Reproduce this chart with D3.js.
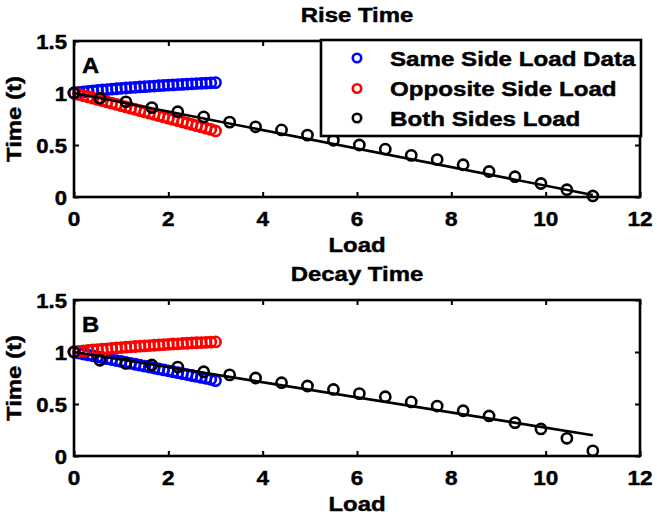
<!DOCTYPE html>
<html>
<head>
<meta charset="utf-8">
<script src="https://cdn.jsdelivr.net/npm/d3@7"></script>
<style>
  html, body { margin: 0; padding: 0; background: #fff; }
  svg { display: block; }
  text { font-family: "Liberation Sans", Arial, Helvetica, sans-serif; font-weight: bold; fill: #000; stroke: #000; stroke-width: 0.45px; }
</style>
</head>
<body>
<svg id="chart" width="657" height="517"></svg>
<script>
// ---------------- data ----------------
const xTickValues = [0, 2, 4, 6, 8, 10, 12];
const xTickLabels = ["0", "2", "4", "6", "8", "10", "12"];
const yTickValues = [0, 0.5, 1, 1.5];
const yTickLabels = ["0", "0.5", "1", "1.5"];

const loadSingle = [0, 0.1, 0.2, 0.3, 0.4, 0.5, 0.6, 0.7, 0.8, 0.9, 1.0,
                    1.1, 1.2, 1.3, 1.4, 1.5, 1.6, 1.7, 1.8, 1.9, 2.0,
                    2.1, 2.2, 2.3, 2.4, 2.5, 2.6, 2.7, 2.8, 2.9, 3.0];
const loadBoth = [0, 0.55, 1.1, 1.65, 2.2, 2.75, 3.3, 3.85, 4.4, 4.95, 5.5,
                  6.05, 6.6, 7.15, 7.7, 8.25, 8.8, 9.35, 9.9, 10.45, 11.0];

// Rise Time
const riseSame = [1.000, 1.006, 1.011, 1.016, 1.021, 1.025, 1.029, 1.033, 1.037, 1.041, 1.045,
                  1.048, 1.052, 1.055, 1.058, 1.061, 1.064, 1.067, 1.070, 1.073, 1.076,
                  1.078, 1.081, 1.083, 1.086, 1.088, 1.091, 1.093, 1.095, 1.098, 1.100];
const riseOpposite = [1.000, 0.987, 0.975, 0.962, 0.950, 0.938, 0.926, 0.914, 0.902, 0.890, 0.878,
                      0.866, 0.854, 0.842, 0.830, 0.818, 0.806, 0.794, 0.782, 0.770, 0.758,
                      0.746, 0.734, 0.722, 0.710, 0.698, 0.686, 0.674, 0.662, 0.650, 0.635];
const riseBoth = [1.00, 0.95, 0.915, 0.86, 0.82, 0.77, 0.72, 0.675, 0.645, 0.595, 0.545,
                  0.50, 0.46, 0.40, 0.36, 0.31, 0.245, 0.195, 0.13, 0.07, 0.01];
const riseFitX = [0, 11];
const riseFitY = [1.0, 0.02];

// Decay Time
const decaySame = [1.000, 0.990, 0.981, 0.972, 0.963, 0.954, 0.945, 0.936, 0.927, 0.918, 0.909,
                   0.900, 0.891, 0.882, 0.873, 0.864, 0.855, 0.846, 0.837, 0.828, 0.819,
                   0.810, 0.801, 0.792, 0.783, 0.774, 0.765, 0.756, 0.747, 0.738, 0.725];
const decayOpposite = [1.000, 1.005, 1.010, 1.015, 1.019, 1.023, 1.027, 1.031, 1.035, 1.039, 1.043,
                       1.046, 1.050, 1.053, 1.056, 1.059, 1.062, 1.065, 1.068, 1.071, 1.074,
                       1.077, 1.079, 1.082, 1.084, 1.087, 1.089, 1.091, 1.093, 1.095, 1.097];
const decayBoth = [1.00, 0.92, 0.89, 0.875, 0.855, 0.81, 0.78, 0.75, 0.705, 0.673, 0.64,
                   0.60, 0.57, 0.52, 0.48, 0.435, 0.385, 0.32, 0.26, 0.17, 0.05];
const decayFitX = [0, 11];
const decayFitY = [1.0, 0.2];

const legendLabels = ["Same Side Load Data", "Opposite Side Load", "Both Sides Load"];
const seriesColors = ["#0000ff", "#ff0000", "#000000"];

// ---------------- layout ----------------
const svg = d3.select("#chart");
const left = 74, right = 640;
const panels = [
  { top: 41, bottom: 197, title: "Rise Time", tag: "A",
    series: [
      { x: loadSingle, y: riseSame, color: seriesColors[0] },
      { x: loadSingle, y: riseOpposite, color: seriesColors[1] },
      { x: loadBoth, y: riseBoth, color: seriesColors[2] }
    ],
    fitX: riseFitX, fitY: riseFitY, legend: true },
  { top: 300, bottom: 456, title: "Decay Time", tag: "B",
    series: [
      { x: loadSingle, y: decaySame, color: seriesColors[0] },
      { x: loadSingle, y: decayOpposite, color: seriesColors[1] },
      { x: loadBoth, y: decayBoth, color: seriesColors[2] }
    ],
    fitX: decayFitX, fitY: decayFitY, legend: false }
];

function label(g, x, y, str, size, anchor, sx, rot) {
  return g.append("text")
    .attr("transform", `translate(${x},${y}) rotate(${rot || 0}) scale(${sx},1)`)
    .attr("text-anchor", anchor)
    .style("font-size", size + "px")
    .text(str);
}

panels.forEach(p => {
  const g = svg.append("g");
  const x = d3.scaleLinear().domain([0, 12]).range([left, right]);
  const y = d3.scaleLinear().domain([0, 1.5]).range([p.bottom, p.top]);

  // axes ticks (inward)
  const ax = [
    g.append("g").attr("transform", `translate(0,${p.bottom})`)
      .call(d3.axisBottom(x).tickValues(xTickValues).tickSizeInner(-5).tickSizeOuter(0).tickFormat("")),
    g.append("g").attr("transform", `translate(0,${p.top})`)
      .call(d3.axisTop(x).tickValues(xTickValues).tickSizeInner(-5).tickSizeOuter(0).tickFormat("")),
    g.append("g").attr("transform", `translate(${left},0)`)
      .call(d3.axisLeft(y).tickValues(yTickValues).tickSizeInner(-5).tickSizeOuter(0).tickFormat("")),
    g.append("g").attr("transform", `translate(${right},0)`)
      .call(d3.axisRight(y).tickValues(yTickValues).tickSizeInner(-5).tickSizeOuter(0).tickFormat(""))
  ];
  ax.forEach(a => {
    a.select(".domain").remove();
    a.selectAll("line").attr("stroke", "#000").attr("stroke-width", 2);
  });

  // tick labels
  xTickValues.forEach((v, i) => label(g, x(v), p.bottom + 29, xTickLabels[i], 20.5, "middle", 1.1));
  yTickValues.forEach((v, i) => label(g, left - 7, y(v) + 7.5, yTickLabels[i], 20.5, "end", 1.08));

  // data
  p.series.forEach(s => {
    g.append("g").selectAll("circle")
      .data(s.x.map((xv, i) => [xv, s.y[i]]))
      .join("circle")
      .attr("cx", d => x(d[0]))
      .attr("cy", d => y(d[1]))
      .attr("r", 5.1)
      .attr("fill", "none")
      .attr("stroke", s.color)
      .attr("stroke-width", 2.6);
  });
  const line = d3.line().x(d => x(d[0])).y(d => y(d[1]));
  g.append("path")
    .datum(p.fitX.map((xv, i) => [xv, p.fitY[i]]))
    .attr("d", line)
    .attr("fill", "none")
    .attr("stroke", "#000")
    .attr("stroke-width", 2.6);

  // frame
  g.append("rect")
    .attr("x", left).attr("y", p.top)
    .attr("width", right - left).attr("height", p.bottom - p.top)
    .attr("fill", "none").attr("stroke", "#000").attr("stroke-width", 2.6);

  // titles and labels
  label(g, (left + right) / 2, p.top - 19, p.title, 21, "middle", 1.14);
  label(g, (left + right) / 2, p.bottom + 55, "Load", 21, "middle", 1.14);
  label(g, 21, (p.top + p.bottom) / 2, "Time (t)", 21, "middle", 1.14, -90);
  label(g, left + 8, p.top + 32, p.tag, 22, "start", 1.08);

  // legend
  if (p.legend) {
    const lg = g.append("g");
    lg.append("rect")
      .attr("x", 321).attr("y", 40).attr("width", 320).attr("height", 96)
      .attr("fill", "#fff").attr("stroke", "#000").attr("stroke-width", 2.6);
    const rows = [58, 88.5, 118];
    legendLabels.forEach((t, i) => {
      lg.append("circle")
        .attr("cx", 357).attr("cy", rows[i]).attr("r", 4.2)
        .attr("fill", "none").attr("stroke", seriesColors[i]).attr("stroke-width", 2.6);
      label(lg, 390, rows[i] + 7.5, t, 21, "start", 1.15);
    });
  }
});
</script>
</body>
</html>
